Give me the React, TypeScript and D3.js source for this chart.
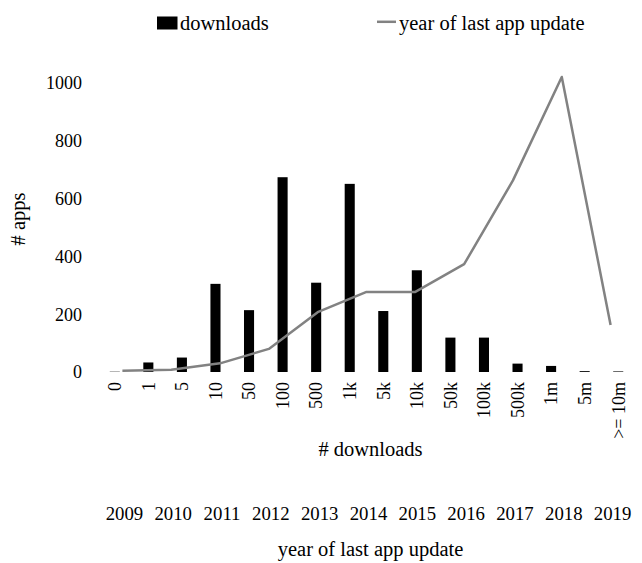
import React from "react";
import * as d3 from "d3";

const downloadCats = ["0", "1", "5", "10", "50", "100", "500", "1k", "5k", "10k", "50k", "100k", "500k", "1m", "5m", ">= 10m"];
const downloadValues = [1, 33, 50, 305, 214, 674, 309, 651, 211, 352, 119, 119, 29, 21, 3, 2];
const years = ["2009", "2010", "2011", "2012", "2013", "2014", "2015", "2016", "2017", "2018", "2019"];
const yearValues = [4, 8, 30, 80, 207, 277, 277, 373, 663, 1021, 163];
const yTicks = [0, 200, 400, 600, 800, 1000];

const W = 642;
const H = 563;
const FONT = "'Liberation Serif', 'Times New Roman', serif";
const LINE_COLOR = "#828282";

export default function App() {
  const x = d3.scaleBand<string>().domain(downloadCats).range([98, 635]).paddingInner(0.7).paddingOuter(0.35);
  const xYear = d3.scalePoint<string>().domain(years).range([98, 635]).padding(0.5);
  const y = d3.scaleLinear().domain([0, 1000]).range([372, 83]);

  const line = d3
    .line<number>()
    .x((_, i) => xYear(years[i]) as number)
    .y((d) => y(d));

  return (
    <svg width={W} height={H} style={{ position: "absolute", left: 0, top: 0, background: "#fff" }} fontFamily={FONT}>
      {/* legend */}
      <rect x={157} y={16.5} width={20.5} height={13} fill="#000" />
      <text x={180} y={30} fontSize={20.5} fill="#000">downloads</text>
      <line x1={377} x2={396} y1={21.8} y2={21.8} stroke={LINE_COLOR} strokeWidth={2.5} />
      <text x={399} y={30} fontSize={20.5} fill="#000">year of last app update</text>

      {/* y axis ticks */}
      {yTicks.map((t) => (
        <text key={t} x={82} y={y(t)} dy="0.35em" textAnchor="end" fontSize={18} fill="#000">
          {t}
        </text>
      ))}
      <text transform={`translate(18,219) rotate(-90)`} textAnchor="middle" dy="0.35em" fontSize={20.5} fill="#000">
        # apps
      </text>

      {/* bars */}
      {downloadCats.map((c, i) => {
        const v = downloadValues[i];
        const top = y(v);
        return <rect key={c} x={x(c)} y={top} width={x.bandwidth()} height={y(0) - top} fill="#000" />;
      })}

      {/* line */}
      <path d={line(yearValues) || ""} fill="none" stroke={LINE_COLOR} strokeWidth={2.5} strokeLinejoin="round" />

      {/* x tick labels (downloads) */}
      {downloadCats.map((c) => {
        const cx = (x(c) as number) + x.bandwidth() / 2;
        return (
          <text key={c} transform={`translate(${cx},382) rotate(-90)`} textAnchor="end" dy="0.35em" fontSize={18} fill="#000">
            {c}
          </text>
        );
      })}
      <text x={370.5} y={456} textAnchor="middle" fontSize={20.5} fill="#000"># downloads</text>

      {/* year axis */}
      {years.map((yr) => (
        <text key={yr} x={(xYear(yr) as number) + 2} y={520} textAnchor="middle" fontSize={18.8} fill="#000">
          {yr}
        </text>
      ))}
      <text x={370.5} y={556} textAnchor="middle" fontSize={20.5} fill="#000">year of last app update</text>
    </svg>
  );
}
